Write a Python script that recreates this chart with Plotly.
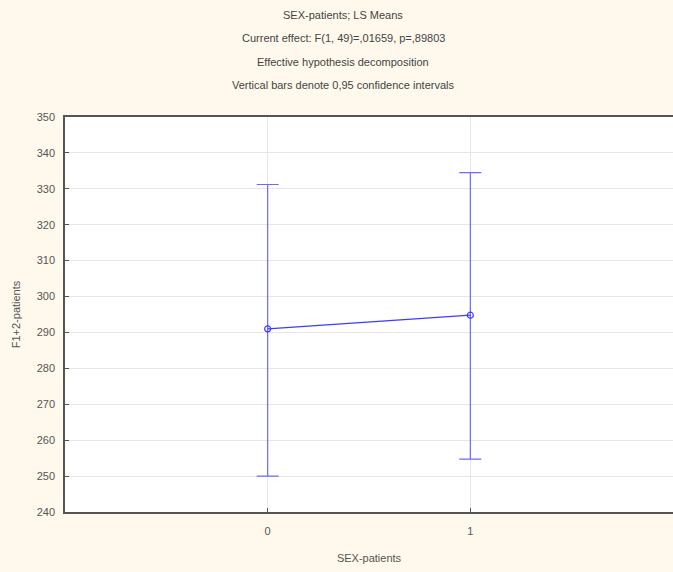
import plotly.graph_objects as go

categories = [0, 1]
means = [291.0, 294.8]
ci_upper = [331.2, 334.5]
ci_lower = [250.0, 254.7]
y_ticks = [240, 250, 260, 270, 280, 290, 300, 310, 320, 330, 340, 350]
title_lines = [
    "SEX-patients; LS Means",
    "Current effect: F(1, 49)=,01659, p=,89803",
    "Effective hypothesis decomposition",
    "Vertical bars denote 0,95 confidence intervals",
]

W, H = 673, 572
L, R, T, B = 65, 0, 117, 60
plot_h = H - T - B

line_col = "rgb(60,60,255)"
err_col = "rgb(105,105,255)"

fig = go.Figure()
fig.add_trace(go.Scatter(
    x=categories, y=means, mode="lines+markers",
    line=dict(color=line_col, width=1.2),
    marker=dict(symbol="circle-open", size=6, color=line_col, line=dict(width=1.2)),
    error_y=dict(type="data", symmetric=False,
                 array=[u - m for u, m in zip(ci_upper, means)],
                 arrayminus=[m - l for m, l in zip(means, ci_lower)],
                 color=err_col, thickness=1.2, width=11),
    showlegend=False,
))

font_fam = "Liberation Sans Narrow, Liberation Sans, Arial, sans-serif"
title_y_px = [15, 38, 62, 85]
for txt, ypx in zip(title_lines, title_y_px):
    fig.add_annotation(text=txt, xref="paper", yref="paper",
                       x=(343 - L) / (W - L - R), y=(H - B - ypx) / plot_h,
                       xanchor="center", yanchor="middle", showarrow=False,
                       font=dict(family=font_fam, size=11, color="#444444"))

fig.update_layout(
    width=W, height=H,
    margin=dict(l=L, r=R, t=T, b=B),
    paper_bgcolor="#FEF9EC",
    plot_bgcolor="white",
    font=dict(family=font_fam, size=11, color="#555555"),
    xaxis=dict(range=[-1, 2], tickvals=categories, ticktext=[str(c) for c in categories],
               showgrid=True, gridcolor="#E6E6E6", zeroline=False,
               showline=True, linecolor="#555555", linewidth=1.5, mirror=True,
               ticks="inside", ticklen=4, tickcolor="#555555", ticklabelstandoff=8,
               title=dict(text="SEX-patients", standoff=18, font=dict(size=11, color="#555555"))),
    yaxis=dict(range=[240, 350], tickvals=y_ticks,
               showgrid=True, gridcolor="#E6E6E6", zeroline=False,
               showline=True, linecolor="#555555", linewidth=1.5, mirror=False,
               ticks="inside", ticklen=4, tickcolor="#555555", ticklabelstandoff=6,
               title=dict(text="F1+2-patients", standoff=14, font=dict(size=11, color="#555555"))),
)

fig.write_html("out.html")
